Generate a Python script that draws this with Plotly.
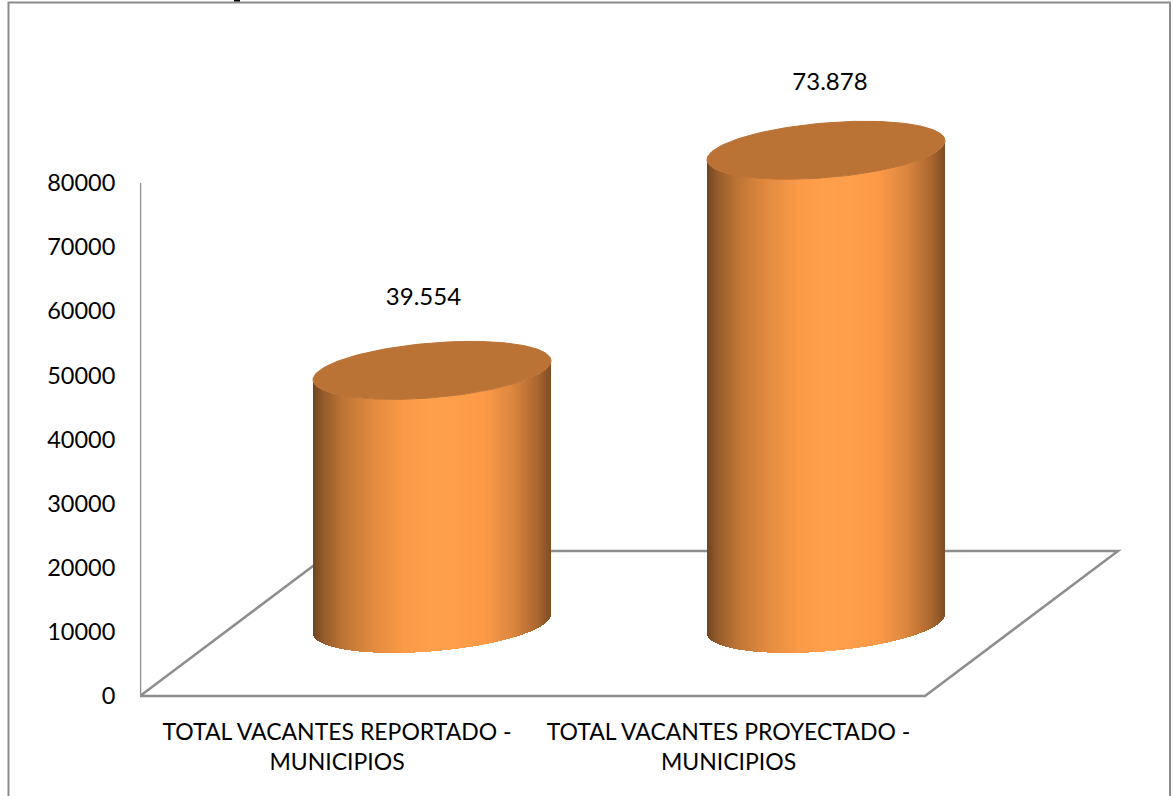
import numpy as np
import plotly.graph_objects as go

categories = ["TOTAL VACANTES REPORTADO -<br>MUNICIPIOS", "TOTAL VACANTES PROYECTADO -<br>MUNICIPIOS"]
values = [39554, 73878]
value_labels = ["39.554", "73.878"]
y_ticks = [0, 10000, 20000, 30000, 40000, 50000, 60000, 70000, 80000]
centers = [432, 826]          # horizontal axis runs in canvas pixels
label_centers = [423.5, 830]
label_gaps = [71, 66]         # px from the cylinder's top to its label
category_centers = [337, 728.5]

W, H = 1173, 796
PLOT_L, PLOT_R, PLOT_T, PLOT_B = 140, 1125, 6, 716
Y0_PX, Y80_PX = 696, 183
K = (Y0_PX - Y80_PX) / 80000  # px per value unit
to_val = lambda px: px / K

FONT = "Lato, Carlito, sans-serif"
FS = 23
LINE = "#8e8e8e"
TOP = "#BB7235"
SEMI_X = 119
SHEAR = to_val(9.5)
SEMI_Y = to_val(27.4)
FLOOR_LIFT = to_val(Y0_PX - 624)
BACK = to_val(Y0_PX - 551)

stops = [(0, (0x70, 0x44, 0x20)), (.04, (0x92, 0x5a, 0x2a)), (.12, (0xbc, 0x74, 0x35)),
         (.25, (0xe2, 0x8a, 0x3f)), (.38, (0xfb, 0x9a, 0x48)), (.5, (0xff, 0xa0, 0x4c)),
         (.72, (0xfd, 0x9a, 0x48)), (.84, (0xdb, 0x86, 0x3f)), (.94, (0xac, 0x68, 0x30)),
         (1, (0x80, 0x4e, 0x25))]


def shade(f):
    xs = [s[0] for s in stops]
    return "rgb(%d,%d,%d)" % tuple(np.interp(f, xs, [s[1][i] for s in stops]) for i in range(3))


def px_x(p):
    return (p - PLOT_L) / (PLOT_R - PLOT_L)


def px_y(p):
    return (PLOT_B - p) / (PLOT_B - PLOT_T)


fig = go.Figure()

for cx, v, lab, lx, gap in zip(centers, values, value_labels, label_centers, label_gaps):
    xs = np.arange(cx - SEMI_X, cx + SEMI_X) + 0.5
    u = (xs - cx) / SEMI_X
    lower = FLOOR_LIFT + SHEAR * u - SEMI_Y * np.sqrt(1 - u ** 2)
    fig.add_trace(go.Bar(
        x=xs, y=[v] * len(xs), base=lower, width=1.0,
        marker=dict(color=[shade((x - (cx - SEMI_X)) / (2 * SEMI_X)) for x in xs], line=dict(width=0)),
        hoverinfo="skip", showlegend=False))
    t = np.linspace(0, 2 * np.pi, 181)
    fig.add_trace(go.Scatter(
        x=cx + SEMI_X * np.cos(t),
        y=FLOOR_LIFT + v + SHEAR * np.cos(t) + SEMI_Y * np.sin(t),
        mode="lines", fill="toself", fillcolor=TOP, line=dict(width=1, color=TOP),
        hoverinfo="skip", showlegend=False))
    fig.add_trace(go.Scatter(
        x=[lx], y=[FLOOR_LIFT + v + to_val(gap)], mode="text", text=[lab],
        textposition="middle center", textfont=dict(family=FONT, size=24, color="#000"),
        hoverinfo="skip", showlegend=False, cliponaxis=False))

frame = dict(type="path", xref="x", yref="y", layer="below", line=dict(color=LINE, width=2.5),
             path=f"M{PLOT_L},80000 L{PLOT_L},0 L925,0 L1118,{BACK} L333,{BACK} L{PLOT_L},0")
border = dict(type="rect", xref="paper", yref="paper", layer="above",
              x0=px_x(8.5), x1=px_x(1170), y0=px_y(806), y1=px_y(2.5),
              line=dict(color="#8c8c8c", width=2), fillcolor="rgba(0,0,0,0)")
# the only visible trace of the title cropped off the top of the reference
title_remnant = dict(type="rect", xref="paper", yref="paper", layer="above",
                     x0=px_x(234), x1=px_x(240), y0=px_y(1.5), y1=px_y(0),
                     line=dict(width=0), fillcolor="#000")

fig.update_layout(
    width=W, height=H, autosize=False, showlegend=False, barmode="overlay", bargap=0,
    paper_bgcolor="white", plot_bgcolor="white",
    margin=dict(l=PLOT_L, r=W - PLOT_R, t=PLOT_T, b=H - PLOT_B, pad=0),
    font=dict(family=FONT, size=FS, color="#000"),
    xaxis=dict(range=[PLOT_L, PLOT_R], tickmode="array", tickvals=category_centers, ticktext=categories,
               showgrid=False, zeroline=False, showline=False, ticks="", tickangle=0,
               tickfont=dict(family=FONT, size=FS, color="#000")),
    yaxis=dict(range=[(Y0_PX - PLOT_B) / K, (Y0_PX - PLOT_T) / K], tickmode="array", tickvals=y_ticks,
               ticktext=[str(v) for v in y_ticks],
               showgrid=False, zeroline=False, showline=False, ticks="outside", ticklen=19,
               tickcolor="rgba(0,0,0,0)", tickfont=dict(family=FONT, size=23.5, color="#000")),
    shapes=[frame, border, title_remnant],
)
fig.write_html("out.html", config={"displayModeBar": False},
               post_script="document.body.style.margin='0';")
